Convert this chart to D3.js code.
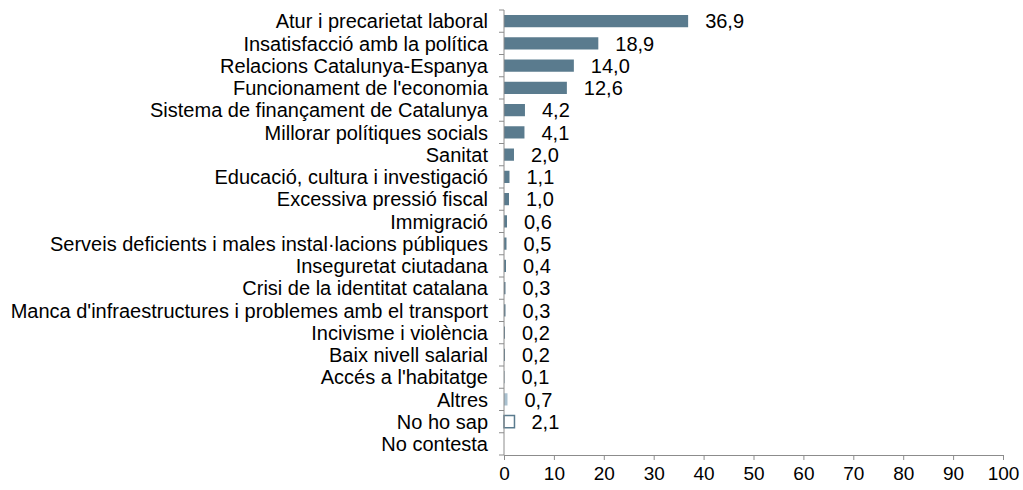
<!DOCTYPE html>
<meta charset="utf-8">
<html>
<head>
<script src="https://d3js.org/d3.v7.min.js"></script>
<style>
  body { margin: 0; background: #fff; }
  text { font-family: "Liberation Sans", Arial, sans-serif; fill: #000; }
  .axis path, .axis line { stroke: #8c8c8c; }
</style>
</head>
<body>
<svg width="1023" height="490"></svg>
<script>
// data
var categories = ["Atur i precarietat laboral", "Insatisfacció amb la política", "Relacions Catalunya-Espanya",
  "Funcionament de l'economia", "Sistema de finançament de Catalunya", "Millorar polítiques socials",
  "Sanitat", "Educació, cultura i investigació", "Excessiva pressió fiscal", "Immigració",
  "Serveis deficients i males instal·lacions públiques", "Inseguretat ciutadana",
  "Crisi de la identitat catalana", "Manca d'infraestructures i problemes amb el transport",
  "Incivisme i violència", "Baix nivell salarial", "Accés a l'habitatge", "Altres", "No ho sap", "No contesta"];
var values = [36.9, 18.9, 14.0, 12.6, 4.2, 4.1, 2.0, 1.1, 1.0, 0.6, 0.5, 0.4, 0.3, 0.3, 0.2, 0.2, 0.1, 0.7, 2.1, null];
var xTicks = [0, 10, 20, 30, 40, 50, 60, 70, 80, 90, 100];

var svg = d3.select("svg");
var data = categories.map(function(c, i) { return {cat: c, val: values[i], i: i}; });

var x = d3.scaleLinear().domain([0, 100]).range([504, 1003]);
var y = d3.scaleBand().domain(categories).range([10, 455]).paddingInner(0.45).paddingOuter(0.225);

function barFill(d) {
  if (d.cat == "Altres") return "#a9c0cf";
  if (d.cat == "No ho sap") return "#fff";
  return "#5a7b8e";
}

svg.append("g").selectAll("rect")
  .data(data.filter(function(d) { return d.val != null; }))
  .enter().append("rect")
    .attr("x", x(0))
    .attr("y", function(d) { return y(d.cat); })
    .attr("width", function(d) { return x(d.val) - x(0); })
    .attr("height", y.bandwidth())
    .attr("fill", barFill)
    .attr("stroke", function(d) { return d.cat == "No ho sap" ? "#5a7b8e" : "none"; })
    .attr("stroke-width", 1.5);

// value labels
svg.append("g").selectAll("text")
  .data(data.filter(function(d) { return d.val != null; }))
  .enter().append("text")
    .attr("x", function(d) { return x(d.val) + 17; })
    .attr("y", function(d) { return y(d.cat) + y.bandwidth() / 2; })
    .attr("dy", "0.36em")
    .style("font-size", "20px")
    .text(function(d) { return d.val.toFixed(1).replace(".", ","); });

// y axis with category ticks at band edges
var yAxis = svg.append("g").attr("class", "axis");
yAxis.append("line").attr("x1", x(0)).attr("x2", x(0)).attr("y1", 10).attr("y2", 455);
yAxis.selectAll(".yt")
  .data(d3.range(categories.length + 1))
  .enter().append("line")
    .attr("x1", x(0) - 5).attr("x2", x(0))
    .attr("y1", function(i) { return 10 + i * y.step(); })
    .attr("y2", function(i) { return 10 + i * y.step(); });
yAxis.selectAll("text")
  .data(categories)
  .enter().append("text")
    .attr("x", 488)
    .attr("y", function(d) { return y(d) + y.bandwidth() / 2; })
    .attr("dy", "0.36em")
    .attr("text-anchor", "end")
    .style("font-size", "20px")
    .text(function(d) { return d; });

// x axis
var xAxis = svg.append("g")
  .attr("class", "axis")
  .attr("transform", "translate(0,455)")
  .call(d3.axisBottom(x).tickValues(xTicks).tickSize(5).tickSizeOuter(0).tickPadding(7));
xAxis.select(".domain").attr("stroke", "#8c8c8c");
xAxis.selectAll("text").style("font-size", "19px").attr("font-family", null);
</script>
</body>
</html>
